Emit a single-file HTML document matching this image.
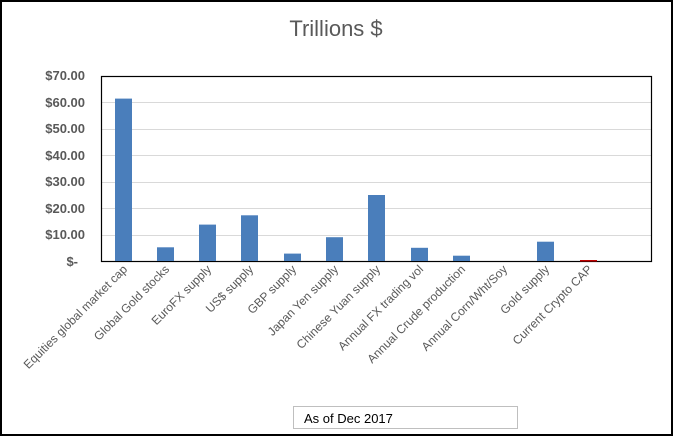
<!DOCTYPE html>
<html><head><style>
body{margin:0;background:#fff}
svg{display:block}
text{font-family:"Liberation Sans",sans-serif;fill:#595959}
</style></head><body>
<svg width="673" height="436" xmlns="http://www.w3.org/2000/svg">
<rect x="1" y="1" width="671" height="434" fill="#fff" stroke="#000" stroke-width="2"/>
<text x="336" y="36" font-size="22" text-anchor="middle">Trillions $</text>
<g stroke="#d9d9d9" stroke-width="1">
<line x1="101" x2="651" y1="102.5" y2="102.5"/>
<line x1="101" x2="651" y1="129.5" y2="129.5"/>
<line x1="101" x2="651" y1="155.5" y2="155.5"/>
<line x1="101" x2="651" y1="182.5" y2="182.5"/>
<line x1="101" x2="651" y1="208.5" y2="208.5"/>
<line x1="101" x2="651" y1="235.5" y2="235.5"/>
<line x1="101" x2="651" y1="261.5" y2="261.5"/>
</g>
<rect x="101.5" y="76.5" width="550" height="185" fill="none" stroke="#000" stroke-width="1.2"/>
<g font-size="13" text-anchor="end" font-weight="bold" style="fill:#595959">
<text x="85" y="80">$70.00</text>
<text x="85" y="107">$60.00</text>
<text x="85" y="133">$50.00</text>
<text x="85" y="160">$40.00</text>
<text x="85" y="186">$30.00</text>
<text x="85" y="213">$20.00</text>
<text x="85" y="239">$10.00</text>
<text x="78" y="266">$-</text>
</g>
<g fill="#4a7ebb">
<rect x="115" y="98.6" width="17" height="162.4"/>
<rect x="157" y="247.3" width="17" height="13.7"/>
<rect x="199" y="224.6" width="17" height="36.4"/>
<rect x="241" y="215.3" width="17" height="45.7"/>
<rect x="284" y="253.6" width="17" height="7.4"/>
<rect x="326" y="237.2" width="17" height="23.8"/>
<rect x="368" y="195" width="17" height="66"/>
<rect x="411" y="247.8" width="17" height="13.2"/>
<rect x="453" y="255.7" width="17" height="5.3"/>
<rect x="537" y="241.7" width="17" height="19.3"/>
</g>
<rect x="580" y="260" width="17" height="1.5" fill="#c00000"/>
<g font-size="12">
<text transform="translate(128,270) rotate(-45)" text-anchor="end">Equities global market cap</text>
<text transform="translate(170,270) rotate(-45)" text-anchor="end">Global Gold stocks</text>
<text transform="translate(212,270) rotate(-45)" text-anchor="end">EuroFX supply</text>
<text transform="translate(254,270) rotate(-45)" text-anchor="end">US$ supply</text>
<text transform="translate(297,270) rotate(-45)" text-anchor="end">GBP supply</text>
<text transform="translate(339,270) rotate(-45)" text-anchor="end">Japan Yen supply</text>
<text transform="translate(381,270) rotate(-45)" text-anchor="end">Chinese Yuan supply</text>
<text transform="translate(424,270) rotate(-45)" text-anchor="end">Annual FX trading vol</text>
<text transform="translate(466,270) rotate(-45)" text-anchor="end">Annual Crude production</text>
<text transform="translate(508,270) rotate(-45)" text-anchor="end">Annual Corn/Wht/Soy</text>
<text transform="translate(550,270) rotate(-45)" text-anchor="end">Gold supply</text>
<text transform="translate(593,270) rotate(-45)" text-anchor="end">Current Crypto CAP</text>
</g>
<rect x="293.5" y="406.5" width="224" height="22" fill="#fff" stroke="#bfbfbf"/>
<text x="304" y="423" font-size="13" style="fill:#000">As of Dec 2017</text>
</svg>
</body></html>
